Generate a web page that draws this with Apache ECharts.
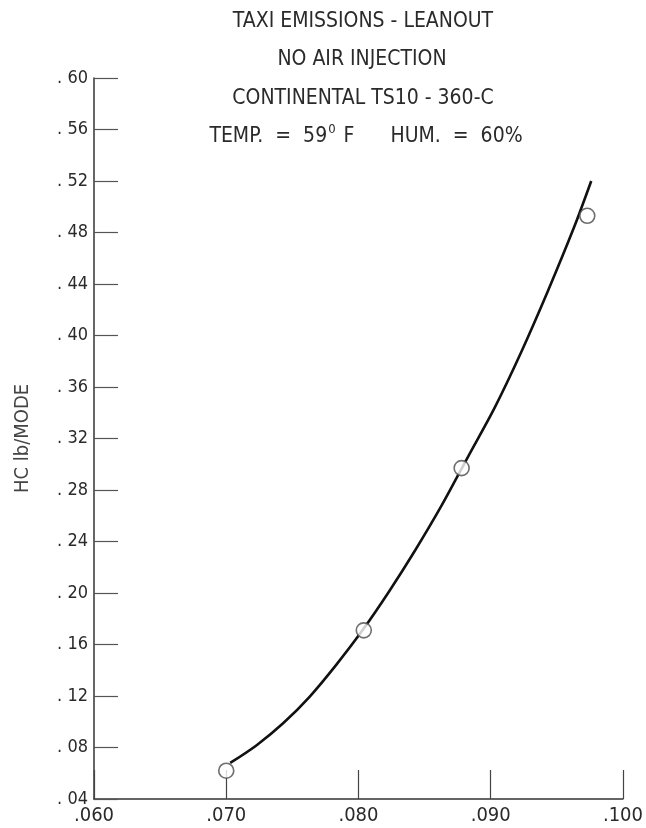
<!DOCTYPE html>
<html>
<head>
<meta charset="utf-8">
<title>Taxi Emissions - Leanout</title>
<script src="https://cdn.jsdelivr.net/npm/echarts@6/dist/echarts.min.js"></script>
<style>
  html, body { margin: 0; padding: 0; background: #fff; }
  #chart { width: 646px; height: 828px; }
</style>
</head>
<body>
<div id="chart"></div>
<script>
// Measured points: fuel/air ratio vs HC emitted per taxi mode
const fuelAir = [0.070, 0.0804, 0.0878, 0.0973];
const hcPerMode = [0.062, 0.171, 0.297, 0.493];

// Faired curve drawn through the measurements
const curveX = [0.0703, 0.0723, 0.0743, 0.0763, 0.0783, 0.0803, 0.0823, 0.0843, 0.0863, 0.0883, 0.0903, 0.0923, 0.0943, 0.0963, 0.0976];
const curveY = [0.068, 0.0818, 0.0988, 0.1194, 0.144, 0.171, 0.201, 0.2334, 0.2682, 0.3062, 0.344, 0.387, 0.434, 0.484, 0.520];

// Axis tick labels
const xTickValues = [0.060, 0.070, 0.080, 0.090, 0.100];
const xTickLabels = ['.060', '.070', '.080', '.090', '.100'];
const yTickValues = [0.04, 0.08, 0.12, 0.16, 0.20, 0.24, 0.28, 0.32, 0.36, 0.40, 0.44, 0.48, 0.52, 0.56, 0.60];
const yTickLabels = ['. 04', '. 08', '. 12', '. 16', '. 20', '. 24', '. 28', '. 32', '. 36', '. 40', '. 44', '. 48', '. 52', '. 56', '. 60'];

const titleLines = [
  'TAXI EMISSIONS - LEANOUT',
  'NO AIR INJECTION',
  'CONTINENTAL TS10 - 360-C'
];

const FONT = '"Liberation Sans Narrow", "DejaVu Sans Condensed", "Liberation Sans", sans-serif';
const INK = '#2a2a2a';

function lookup(values, labels, v) {
  for (let i = 0; i < values.length; i++) {
    if (Math.abs(values[i] - v) < 1e-6) return labels[i];
  }
  return '';
}

const chart = echarts.init(document.getElementById('chart'), null, { renderer: 'canvas' });

const titleStyle = { fontFamily: FONT, fontSize: 21, fontWeight: 'normal', color: INK };

chart.setOption({
  backgroundColor: '#ffffff',
  animation: false,
  title: [
    { text: titleLines[0], left: 358, top: 6, textAlign: 'center', textStyle: titleStyle },
    { text: titleLines[1], left: 357, top: 44, textAlign: 'center', textStyle: titleStyle },
    { text: titleLines[2], left: 358, top: 83, textAlign: 'center', textStyle: titleStyle },
    {
      text: '{a|TEMP.  =  59}{s|0}{a| F      HUM.  =  60%}',
      left: 361, top: 118, textAlign: 'center',
      textStyle: {
        fontWeight: 'normal',
        rich: {
          a: { fontFamily: FONT, fontSize: 21, fontWeight: 'normal', color: INK, verticalAlign: 'bottom' },
          s: { fontFamily: FONT, fontSize: 13, fontWeight: 'normal', color: INK, verticalAlign: 'top', padding: [0, 2, 11, 1] }
        }
      }
    }
  ],
  grid: { left: 94, right: 21, top: 78, bottom: 29, containLabel: false },
  xAxis: {
    type: 'value',
    min: 0.06, max: 0.10, interval: 0.01,
    axisLine: { show: true, onZero: false, lineStyle: { color: '#333', width: 1.5 } },
    axisTick: { show: true, inside: true, length: 29, lineStyle: { color: '#444', width: 1.2 } },
    axisLabel: {
      fontFamily: FONT, fontSize: 20, color: INK, margin: 7,
      formatter: v => lookup(xTickValues, xTickLabels, v)
    },
    splitLine: { show: false }
  },
  yAxis: {
    type: 'value',
    min: 0.04, max: 0.60, interval: 0.04,
    name: 'HC lb/MODE',
    nameLocation: 'middle',
    nameGap: 61,
    nameRotate: 90,
    nameTextStyle: { fontFamily: FONT, fontSize: 20, color: '#444' },
    axisLine: { show: true, onZero: false, lineStyle: { color: '#333', width: 1.5 } },
    axisTick: { show: true, inside: true, length: 24, lineStyle: { color: '#555', width: 1.2 } },
    axisLabel: {
      fontFamily: FONT, fontSize: 18, color: INK, margin: 6,
      formatter: v => lookup(yTickValues, yTickLabels, v)
    },
    splitLine: { show: false }
  },
  series: [
    {
      name: 'curve',
      type: 'line',
      data: curveX.map((x, i) => [x, curveY[i]]),
      smooth: 0.3,
      showSymbol: false,
      lineStyle: { color: '#111', width: 2.6 },
      z: 2
    },
    {
      name: 'measured',
      type: 'scatter',
      data: fuelAir.map((x, i) => [x, hcPerMode[i]]),
      symbol: 'circle',
      symbolSize: 15,
      itemStyle: { color: '#ffffff', borderColor: '#4a4a4a', borderWidth: 1.6 },
      z: 3
    }
  ]
});
</script>
</body>
</html>
